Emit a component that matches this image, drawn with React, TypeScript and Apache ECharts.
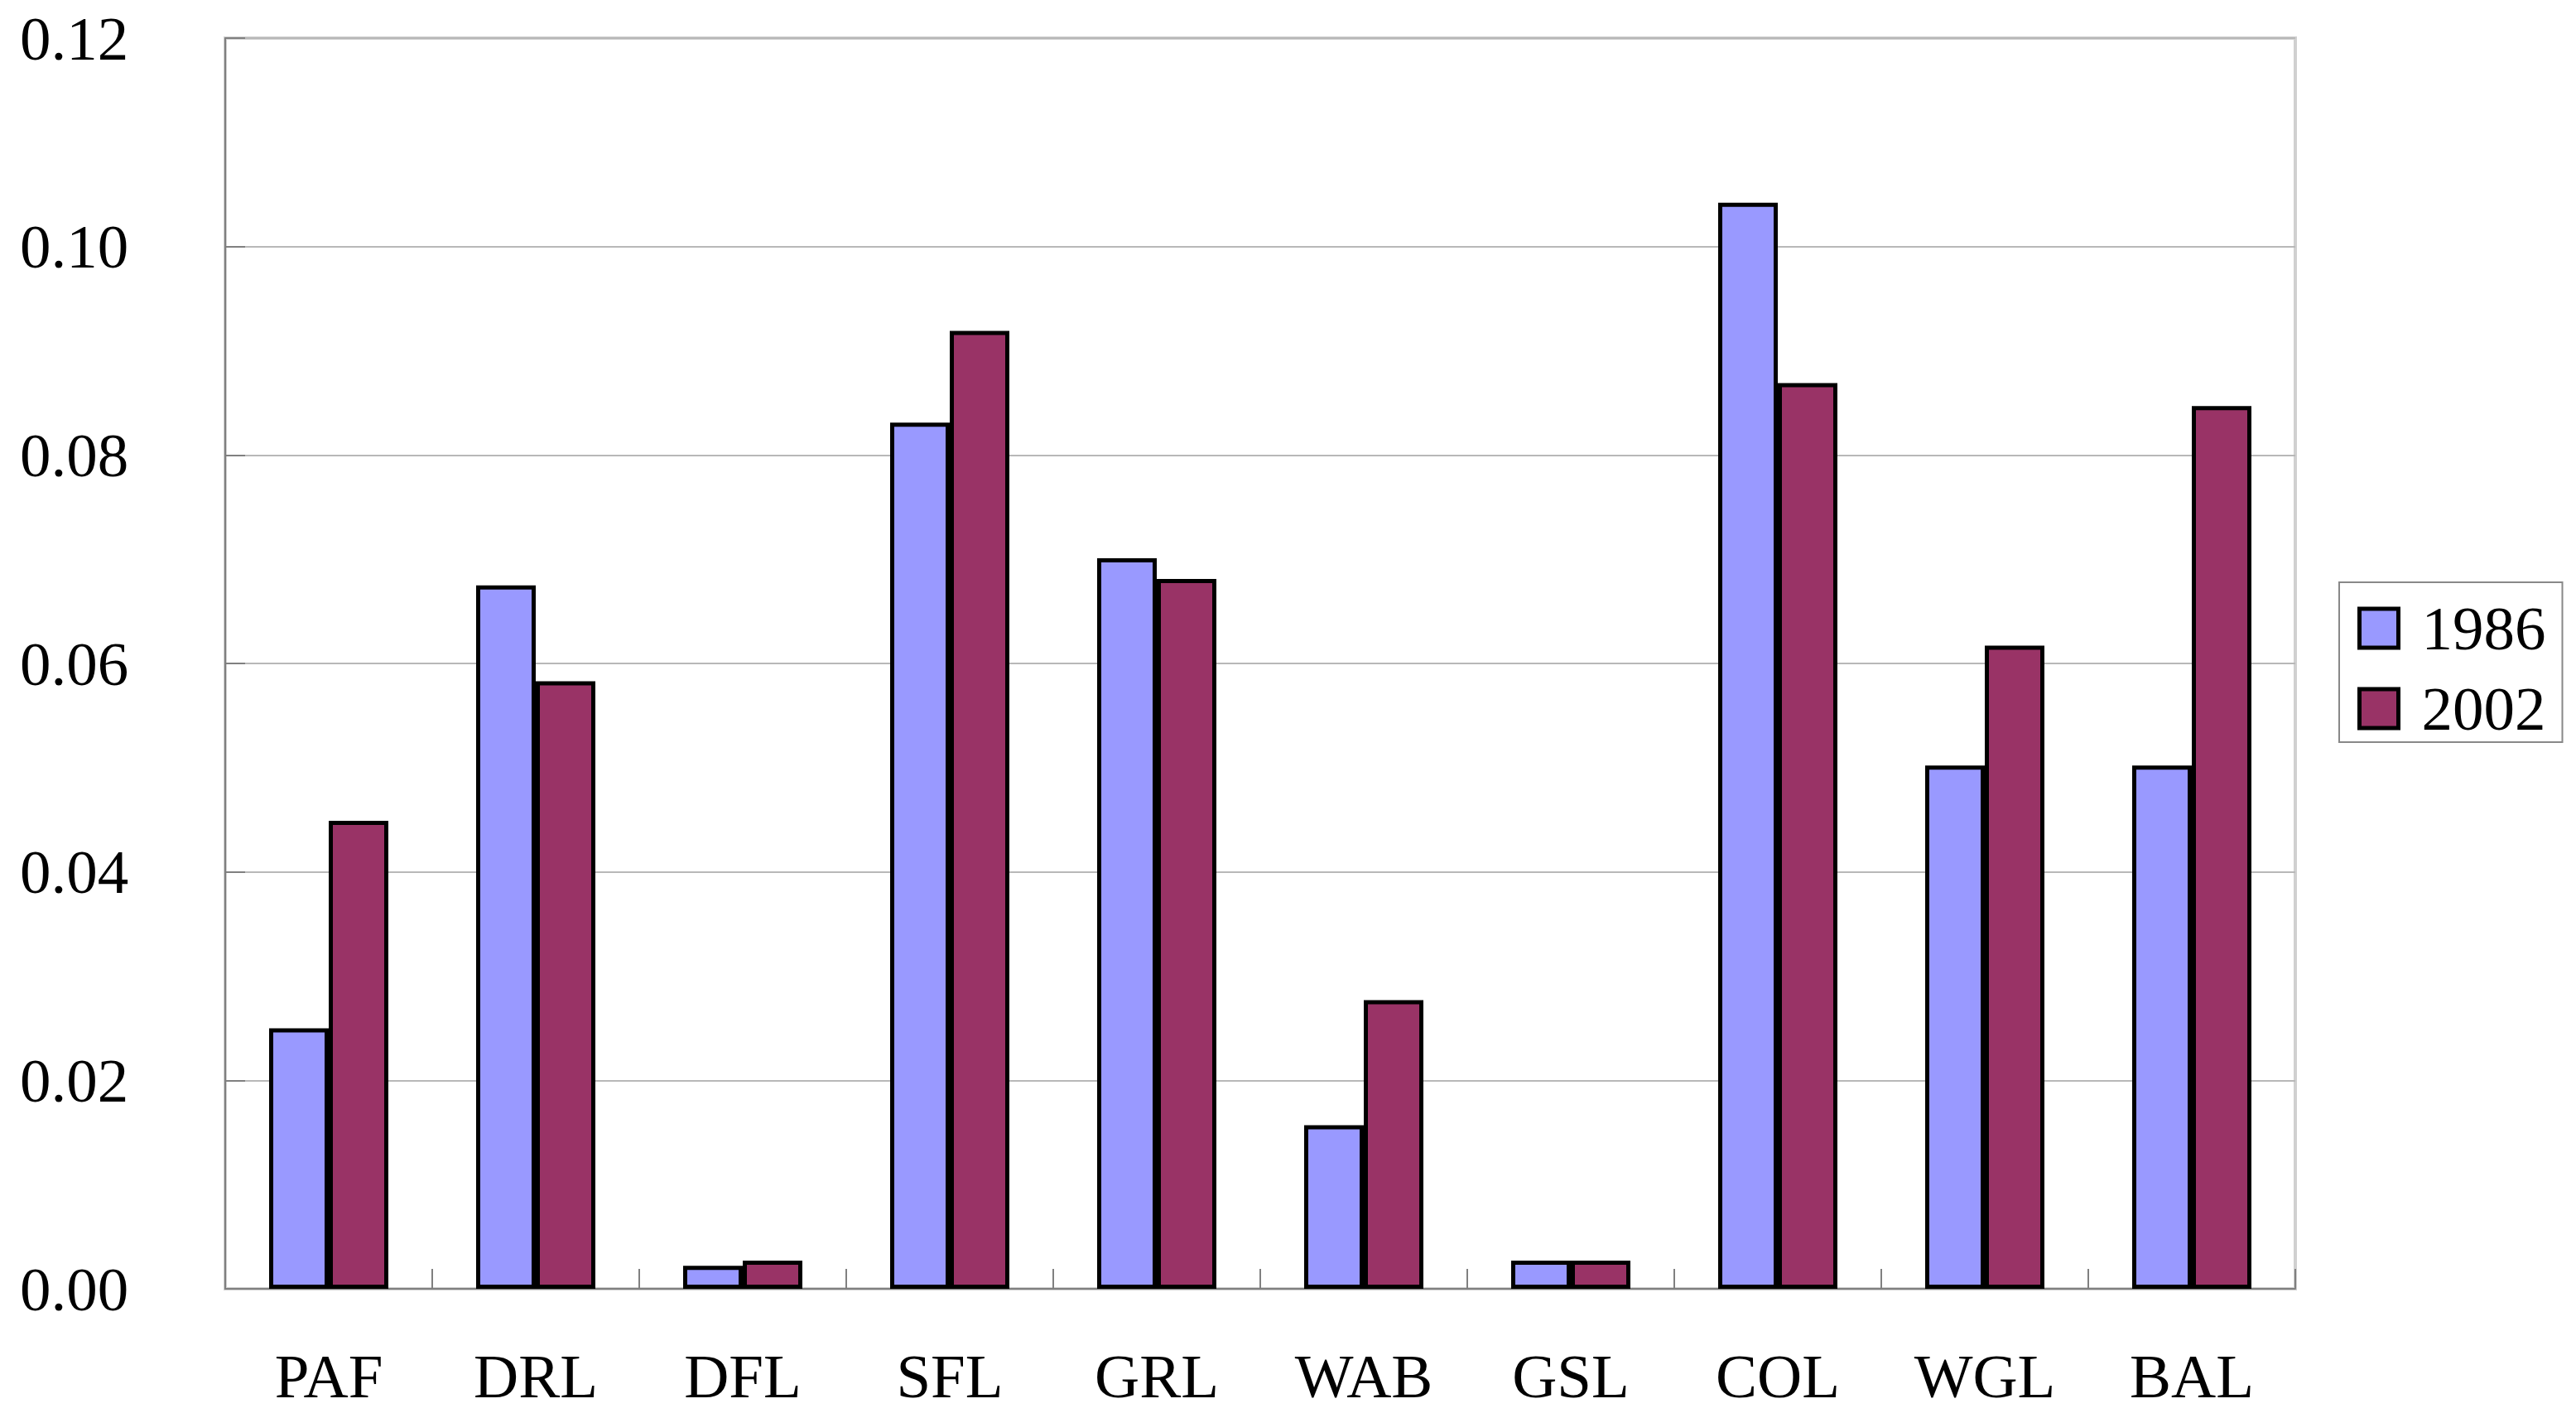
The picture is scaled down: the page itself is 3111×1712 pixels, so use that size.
import React, { useEffect, useRef } from "react";
import * as echarts from "echarts";

const categories = ["PAF", "DRL", "DFL", "SFL", "GRL", "WAB", "GSL", "COL", "WGL", "BAL"];
const series1986 = [0.0250, 0.0675, 0.0022, 0.0831, 0.0701, 0.0157, 0.0027, 0.1042, 0.0502, 0.0502];
const series2002 = [0.0449, 0.0583, 0.0027, 0.0919, 0.0681, 0.0277, 0.0027, 0.0869, 0.0617, 0.0847];
const seriesNames = ["1986", "2002"];
const yTicks = { min: 0, max: 0.12, interval: 0.02 };

const FONT = "'Liberation Serif', 'DejaVu Serif', serif";

export default function App() {
  const ref = useRef<HTMLDivElement>(null);
  useEffect(() => {
    if (!ref.current) return;
    const chart = echarts.init(ref.current, null, { renderer: "svg" });
    const barStyle = (color: string) => ({ color, borderColor: "#000", borderWidth: 5 });
    chart.setOption({
      animation: false,
      backgroundColor: "#fff",
      grid: {
        left: 272,
        right: 339,
        top: 46,
        bottom: 156,
        show: true,
        borderColor: "#d0d0d0",
        borderWidth: 4,
        backgroundColor: "transparent",
      },
      legend: {
        orient: "vertical",
        left: 2825,
        top: 703,
        padding: [18, 20, 3, 22],
        itemGap: 22,
        itemWidth: 47,
        itemHeight: 47,
        borderColor: "#888",
        borderWidth: 2,
        icon: "rect",
        textStyle: { fontFamily: FONT, fontSize: 75, color: "#000", padding: [0, 0, 0, 23] },
        data: [
          { name: seriesNames[0], itemStyle: barStyle("#9999FF") },
          { name: seriesNames[1], itemStyle: barStyle("#993366") },
        ],
      },
      xAxis: {
        type: "category",
        data: categories,
        axisLine: { lineStyle: { color: "#808080", width: 2 } },
        axisTick: { show: true, inside: true, length: 24, lineStyle: { color: "#808080", width: 2 } },
        axisLabel: { fontFamily: FONT, fontSize: 75, color: "#000", margin: 68 },
      },
      yAxis: {
        type: "value",
        min: yTicks.min,
        max: yTicks.max,
        interval: yTicks.interval,
        axisLine: { show: true, lineStyle: { color: "#808080", width: 2 } },
        axisTick: { show: true, inside: true, length: 24, lineStyle: { color: "#808080", width: 2 } },
        splitLine: { show: true, lineStyle: { color: "#b8b8b8", width: 2 } },
        axisLabel: {
          fontFamily: FONT,
          fontSize: 75,
          color: "#000",
          align: "left",
          margin: 248,
          formatter: (v: number) => v.toFixed(2),
        },
      },
      series: [
        {
          name: seriesNames[0],
          type: "bar",
          data: series1986,
          barWidth: 72,
          barGap: "0%",
          itemStyle: barStyle("#9999FF"),
        },
        {
          name: seriesNames[1],
          type: "bar",
          data: series2002,
          barWidth: 72,
          barGap: "0%",
          itemStyle: barStyle("#993366"),
        },
      ],
    });
    return () => chart.dispose();
  }, []);
  return (
    <div
      ref={ref}
      style={{ position: "absolute", left: 0, top: 0, width: 3111, height: 1712, background: "#fff" }}
    />
  );
}
